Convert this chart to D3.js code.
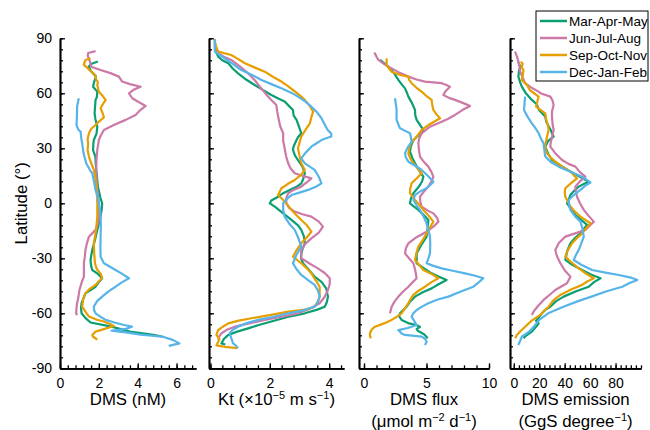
<!DOCTYPE html>
<html>
<head>
<meta charset="utf-8">
<script src="https://cdn.jsdelivr.net/npm/d3@7"></script>
<style>
  body { margin: 0; background: #fff; }
  svg { display: block; font-family: Arial, "Liberation Sans", sans-serif; }
  .axis path, .axis line { stroke: #000; }
  .axis path { stroke-width: 1.7px; }
  .axis line { stroke-width: 1.3px; }
  .axis text { font-size: 14px; fill: #000; font-family: Arial, "Liberation Sans", sans-serif; }
  .title { font-size: 16.8px; fill: #000; }
  .profile { fill: none; stroke-width: 2.2px; stroke-linejoin: round; }
</style>
</head>
<body>
<div id="chart"></div>
<script>
// seasons and their colours
const seasons = ["Mar-Apr-May", "Jun-Jul-Aug", "Sep-Oct-Nov", "Dec-Jan-Feb"];
const seasonColors = ["#0a9e73", "#cc79a7", "#e69f00", "#56b4e9"];
const latTicks = [-90, -60, -30, 0, 30, 60, 90];

// DMS (nM): [latitude, value]
const dmsMAM = [[77.3,1.95],[76,1.6],[74.5,1.48],[72,1.6],[69.1,1.85],[66,1.75],[63.6,1.7],[60.9,1.92],[58,1.9],[56.4,1.83],[52,1.8],[49.1,1.78],[46,1.82],[41.8,1.92],[38,1.88],[34.5,1.74],[32.7,1.72],[29.1,1.7],[25.5,1.82],[20,1.85],[14.5,1.9],[9.1,1.95],[3,2.08],[0,2.17],[-3,2.15],[-7.3,2.09],[-14.5,1.92],[-20,1.8],[-25.5,1.66],[-30.9,1.57],[-34,1.6],[-36.4,1.66],[-38.5,1.95],[-40.9,2.17],[-43,2.0],[-45.5,1.83],[-49.1,1.31],[-52,1.2],[-54.5,1.11],[-57,1.08],[-60,1.11],[-62.5,1.3],[-65,1.57],[-67.3,2.65],[-70,3.6],[-71.8,4.8],[-72.8,5.3]];
const dmsJJA = [[83,1.83],[82,1.45],[80.4,1.43],[77,1.55],[74.5,1.6],[72.7,2.09],[71,2.6],[69.1,3.03],[66.4,3.2],[65,3.6],[63.6,4.15],[62,3.8],[60,3.55],[57.3,3.72],[55.5,4.0],[53.1,4.41],[51,4.15],[48.2,3.89],[45.5,3.38],[42.7,2.77],[40,2.26],[37,2.1],[34.5,2.0],[29.1,1.92],[24,1.88],[18.2,1.86],[12,1.88],[7.3,1.92],[0,2.0],[-7.3,2.0],[-11,1.95],[-14.5,1.83],[-18.2,1.49],[-22,1.38],[-25.5,1.31],[-29,1.28],[-32.7,1.23],[-36,1.23],[-40,1.23],[-43,1.12],[-47.3,1.0],[-51,0.95],[-54.5,0.88],[-57,0.85],[-60,0.83],[-61,0.88]];
const dmsSON = [[79.1,1.57],[78.2,1.31],[76.5,1.25],[75.5,1.23],[74,1.4],[72.2,1.57],[69.8,1.83],[68.2,1.83],[66,1.95],[64.5,1.92],[60.9,2.0],[58.5,2.2],[56.4,2.35],[54,2.2],[51.8,2.09],[49,2.2],[46.9,2.26],[44.5,2.0],[42.7,1.83],[40.5,1.6],[38.2,1.49],[35,1.42],[32.7,1.45],[29,1.42],[25.5,1.49],[22,1.6],[18.2,1.74],[14,1.82],[10.9,1.86],[5,1.9],[0,1.92],[-7.3,1.92],[-14.5,1.86],[-21.8,1.74],[-27,1.76],[-32.7,1.8],[-36,1.9],[-38.5,2.1],[-40.9,2.17],[-42.5,2.0],[-44.5,1.83],[-47,1.5],[-49.1,1.31],[-52,1.2],[-56.4,1.14],[-59,1.3],[-61.8,1.49],[-63.5,1.9],[-64.5,2.26],[-66,2.6],[-66.9,2.77],[-68.5,2.3],[-70,1.83],[-71.8,1.66],[-72.8,1.7],[-74.3,1.92]];
const dmsDJF = [[57.3,0.97],[54,0.9],[52.7,0.88],[47,0.87],[42.7,0.85],[40,0.95],[39.1,1.06],[35,1.1],[32.7,1.14],[27,1.22],[21.8,1.35],[18,1.55],[16.4,1.66],[12,1.75],[7.3,1.83],[3,1.95],[0,2.0],[-3,2.05],[-7.3,2.09],[-12,2.1],[-18.2,2.09],[-24,2.08],[-29.1,2.09],[-32.7,2.26],[-34.5,2.55],[-36.4,2.86],[-38.5,3.2],[-40.9,3.55],[-43,3.2],[-45.5,2.86],[-48,2.5],[-50.9,2.17],[-53.5,1.9],[-56.4,1.74],[-58.5,1.76],[-60,1.83],[-62,2.1],[-63.6,2.35],[-65,2.8],[-66.4,3.3],[-67.3,3.7],[-68.5,3.4],[-69.5,2.65],[-70.5,3.5],[-71.6,4.15],[-72.8,5.3],[-74.5,5.8],[-76.4,6.15],[-77.8,5.6]];

// Kt (x1e-5 m s-1)
const ktMAM = [[89.5,0.15],[86,0.15],[83.6,0.15],[80,0.26],[78,0.4],[76.4,0.6],[73.5,0.75],[70.9,0.93],[67.5,1.2],[64.5,1.49],[62,1.75],[59.1,2.05],[57,2.3],[55.5,2.5],[53,2.65],[50.9,2.78],[48,2.8],[45.5,2.9],[42,2.98],[38.2,3.06],[36,2.95],[34.5,2.9],[31,2.8],[29.1,2.78],[26,2.85],[23.6,2.95],[20,3.1],[16.4,3.18],[13,3.12],[10.9,3.06],[9,2.9],[7.3,2.67],[5.5,2.45],[3.6,2.28],[1.5,2.05],[0,2.0],[-1.8,2.17],[-5.5,2.45],[-9.1,2.73],[-12,2.95],[-14.5,3.06],[-18,3.15],[-21.8,3.18],[-25,3.1],[-27.3,3.06],[-30,3.05],[-32.7,3.12],[-36,3.3],[-40,3.51],[-43,3.75],[-46.4,3.9],[-50.9,3.96],[-54,3.92],[-56.4,3.85],[-58,3.6],[-60,3.18],[-62,2.6],[-64.5,2.05],[-66.5,1.6],[-68.2,1.27],[-70,0.9],[-71.8,0.6],[-74,0.45],[-76.4,0.37],[-77,0.5]];
const ktJJA = [[89.5,0.15],[87,0.15],[84,0.2],[81.8,0.26],[80,0.45],[78.2,0.7],[74.5,1.0],[70.9,1.27],[67,1.5],[63.6,1.66],[61,1.8],[58.2,1.94],[55.5,2.1],[53.6,2.22],[50,2.25],[47.3,2.28],[42,2.35],[38.2,2.45],[34,2.45],[30,2.5],[25.5,2.55],[21.8,2.62],[19,2.7],[16.4,2.84],[15,3.1],[13.6,3.4],[11.5,3.25],[9.1,3.06],[7.3,2.8],[5.5,2.62],[2.5,2.55],[0,2.56],[-2.5,2.65],[-4.5,2.84],[-6,3.1],[-7.3,3.4],[-10,3.65],[-12.7,3.79],[-16,3.65],[-19.1,3.4],[-22,3.2],[-25.5,3.06],[-30,3.06],[-33,3.35],[-35.5,3.62],[-38,3.85],[-40.9,4.02],[-44,4.02],[-47.3,3.96],[-51,3.85],[-54.5,3.68],[-57.5,3.35],[-60,2.95],[-62,2.35],[-63.6,1.83],[-65.5,1.3],[-67.3,0.82],[-69,0.55],[-70.9,0.37],[-72.5,0.3],[-74.5,0.26]];
const ktSON = [[89.5,0.15],[88,0.15],[85,0.2],[82.7,0.26],[80.9,0.7],[78.5,0.95],[76.4,1.16],[74,1.5],[71.8,1.83],[69,2.1],[66.4,2.39],[64,2.6],[61.8,2.78],[59,3.0],[56.4,3.18],[53,3.35],[50,3.46],[47,3.4],[43.6,3.35],[40,3.2],[36.4,3.06],[33,3.0],[30,2.95],[26,3.0],[21.8,3.06],[18.2,3.18],[15.5,3.05],[12.7,2.84],[10.5,2.6],[8.2,2.39],[4.5,2.28],[1.8,2.45],[-1,2.6],[-3.6,2.73],[-6.5,2.9],[-9.1,3.06],[-12,3.25],[-15.5,3.4],[-18.5,3.25],[-21.8,3.06],[-25.5,2.9],[-29.1,2.78],[-32.7,3.06],[-35.5,3.25],[-38.2,3.4],[-42,3.55],[-45.5,3.68],[-50.9,3.68],[-54,3.6],[-56.4,3.51],[-58,3.2],[-59.1,2.62],[-61,2.0],[-62.7,1.38],[-64,0.95],[-65.5,0.6],[-67.5,0.4],[-69.1,0.26],[-71.8,0.2],[-74,0.3],[-75.5,0.26],[-77.5,0.2],[-78.3,0.5],[-79,0.9]];
const ktDJF = [[89.5,0.15],[86,0.15],[82.7,0.15],[81,0.3],[79.1,0.48],[76,0.75],[72.7,1.04],[70,1.4],[67.3,1.72],[65,2.05],[62.7,2.39],[60.5,2.7],[58.2,2.95],[55.5,3.2],[52.7,3.4],[49.5,3.6],[46.4,3.74],[43,3.85],[40,3.95],[38,4.07],[36.4,4.07],[34.5,3.74],[32.5,3.55],[30.9,3.4],[27.5,3.2],[24.5,3.06],[21.8,3.18],[18.2,3.51],[14.5,3.65],[10.9,3.74],[9,3.55],[7.3,3.29],[5.8,3.0],[4.5,2.73],[2,2.55],[0,2.45],[-3.5,2.45],[-7.3,2.5],[-11,2.65],[-14.5,2.84],[-18.5,2.95],[-23.6,3.06],[-28,2.9],[-32.7,2.78],[-36,2.9],[-39.1,3.06],[-42,3.3],[-44.5,3.51],[-47.5,3.62],[-50.9,3.68],[-54,3.62],[-56.4,3.51],[-58.5,3.1],[-60,2.62],[-62,2.1],[-63.6,1.6],[-65.5,1.2],[-67.3,0.93],[-69,0.75],[-70.9,0.65],[-73.5,0.7],[-76.4,0.76],[-77.5,0.85],[-79,0.93]];

// DMS flux (umol m-2 d-1)
const fluxMAM = [[78.2,1.28],[76.5,1.6],[74.5,1.95],[71,2.4],[67.3,2.75],[65,3.0],[62.7,3.28],[60,3.45],[58.2,3.55],[54.5,3.85],[50.9,4.08],[48,4.1],[45.5,4.21],[42.5,4.5],[40,4.75],[37,4.35],[34.5,3.95],[31,3.75],[28.2,3.68],[25,3.85],[21.8,4.08],[18,4.4],[14.5,4.75],[12,4.65],[10,4.48],[7.5,4.2],[5.5,3.95],[2.5,3.75],[0,3.68],[-1.8,4.0],[-3.6,4.35],[-6.5,4.8],[-9.1,5.15],[-13,5.1],[-18.2,5.01],[-22.5,4.6],[-27.3,4.21],[-32.7,4.21],[-35.5,4.8],[-38.2,5.41],[-40,6.0],[-41.8,6.61],[-44,6.0],[-46.4,5.41],[-48.5,4.7],[-50.9,4.08],[-53.5,3.7],[-56.4,3.41],[-58.5,3.1],[-60,2.88],[-61.5,2.8],[-63.6,3.01],[-65.5,3.6],[-66.4,4.2],[-67.5,4.48],[-68.5,4.21],[-69.5,4.3],[-71.4,4.8],[-73.6,5.1]];
const fluxJJA = [[82.2,0.83],[80,1.0],[78.2,1.15],[75.5,1.7],[73.6,2.21],[71,2.9],[69.1,3.55],[67.5,4.2],[66.4,4.88],[65.5,6.21],[64.5,6.6],[63.6,6.88],[61,6.5],[59.1,6.35],[57.5,6.8],[56.4,7.28],[54.5,8.0],[53.1,8.48],[51,7.9],[48.2,7.28],[46,6.7],[44.5,6.21],[41.8,5.28],[38.2,4.61],[35,4.4],[32.7,4.35],[29,4.4],[25.5,4.48],[22.5,4.8],[20,5.15],[17,5.4],[14.5,5.55],[12,5.4],[9.1,5.15],[6.5,4.8],[3.6,4.48],[1,4.5],[-1.8,4.61],[-4,5.1],[-5.5,5.55],[-8,5.85],[-10,5.95],[-12.5,5.6],[-15.5,5.01],[-18.5,4.2],[-21.8,3.55],[-24.5,3.35],[-27.3,3.28],[-30,3.6],[-32.7,3.95],[-36.5,4.1],[-40.9,4.21],[-43,3.9],[-45.5,3.55],[-48,3.15],[-50.9,2.75],[-53.5,2.45],[-56.4,2.21],[-60,2.08]];
const fluxSON = [[79,1.8],[78.5,1.81],[75.5,1.81],[73.5,2.0],[71.8,2.21],[70,2.9],[69.1,3.55],[67.5,3.6],[65.5,3.81],[63,4.2],[60.9,4.61],[58.5,5.0],[56.4,5.41],[54,5.45],[50.9,5.55],[48.5,5.8],[46.4,6.08],[44.5,5.6],[42.7,5.15],[40,4.61],[36.4,4.21],[34,3.9],[31.8,3.68],[27.3,3.55],[24.5,3.7],[21.8,3.95],[19,4.3],[16.4,4.61],[13.5,4.2],[10.9,3.81],[8,3.7],[5.5,3.68],[1.8,4.08],[-1,4.45],[-3.6,4.75],[-7,5.2],[-10,5.55],[-13,5.3],[-16.4,5.01],[-20,4.7],[-23.6,4.35],[-27,4.2],[-30.9,4.08],[-33.5,4.4],[-36.4,4.75],[-38.5,5.4],[-40.9,5.95],[-43,5.4],[-45.5,4.88],[-48,4.3],[-50,3.95],[-52.5,3.7],[-54.5,3.55],[-57,3.3],[-60,3.01],[-62,2.6],[-63.6,2.21],[-65.5,1.6],[-67.3,0.88],[-69,0.6],[-70.9,0.48],[-72.5,0.48],[-73.6,0.56]];
const fluxDJF = [[57.3,2.48],[54,2.55],[50.9,2.61],[48,2.6],[45.5,2.61],[43,2.75],[40.9,2.88],[39.5,3.3],[38.2,3.68],[36,3.75],[33.6,3.81],[30.5,3.5],[27.3,3.28],[25,3.35],[22.7,3.55],[20.5,4.1],[18.2,4.61],[15,5.1],[11.8,5.55],[10,5.3],[8.2,5.01],[6.5,4.5],[4.5,4.08],[1.8,3.95],[-1,4.2],[-3.6,4.48],[-7,4.75],[-10.9,5.01],[-14.5,5.15],[-18.2,5.28],[-23,5.3],[-27.3,5.28],[-30,5.15],[-32.7,5.01],[-34,5.5],[-35.5,6.21],[-36.8,7.1],[-38.2,8.08],[-39.5,8.9],[-40.9,9.55],[-43,9.2],[-45.5,8.75],[-48,7.8],[-50.9,6.75],[-52.5,5.9],[-54.5,5.15],[-56.5,4.6],[-58.2,4.21],[-60,3.95],[-61.8,3.81],[-64,4.0],[-66.4,4.21],[-68,3.5],[-69.2,2.75],[-70,2.88],[-71,3.0],[-71.8,3.28],[-72.7,4.61],[-74,4.9],[-75.5,5.01],[-77.3,4.88]];

// DMS emission (GgS degree-1)
const emisMAM = [[77,3.5],[74.5,5.0],[72,4.0],[69.1,3.6],[66,5.0],[63.6,6.3],[60,9.5],[56.4,14.2],[54,18],[50.9,19.8],[47.3,24.7],[44.5,25.5],[40,29],[38.2,30],[36.4,31.3],[34,27],[30.9,24.7],[27,27],[23.6,30],[20.5,37],[17.3,44.5],[14.5,52],[11.8,58.9],[10.5,55],[9.1,51],[6.5,47],[4.5,44.5],[2,43],[0,41.8],[-3,45],[-6.4,48.4],[-9,53],[-11.8,57.6],[-14,55],[-16.4,52.4],[-19,48],[-21.8,44.5],[-26,42],[-30.9,40.5],[-33.5,46],[-36.4,53.7],[-39,61],[-40.9,68.2],[-43,63],[-45.5,58.9],[-48,49],[-50.9,39.2],[-53.5,33],[-56.4,28.7],[-58,25],[-60,22.1],[-62,20],[-64,17.5],[-65.5,19.5],[-67,18],[-70,14.2],[-72,10],[-73.6,7.6]];
const emisJJA = [[82.7,1.0],[80,2.5],[77.3,3.6],[74.5,4.5],[71.8,5.0],[68.5,7],[65.5,8.9],[63,14],[60.9,19.5],[60,21],[58.2,28.7],[56,30.5],[53.6,31.3],[50,30],[47.3,30],[43,30.5],[40,31.3],[36,30],[33,29],[30.9,28.7],[27,33],[23.6,37.9],[21.5,43],[20,48.4],[17,52],[14.5,56.3],[12,52],[9.1,48.4],[6.5,48.8],[3.6,49.7],[0,52],[-3.6,55],[-7,59],[-10,62.9],[-12,60],[-14.5,56.3],[-16,50],[-18.2,40.5],[-21.5,35.5],[-25.5,32.6],[-29,34],[-32.7,36.6],[-36.5,40],[-40,44.5],[-43.6,41.8],[-45.5,37],[-47.3,32.6],[-50,28],[-52.7,23.4],[-56,19],[-59.1,15.5],[-60.9,14.2]];
const emisSON = [[77.3,5.5],[76,7.0],[74.5,6.0],[72.5,7.6],[69.8,7.0],[67.3,6.3],[64.5,10.3],[61.8,12.5],[58.2,19.5],[56.4,18.8],[54.5,18.2],[52.7,17.5],[49.1,24.7],[45.5,25.5],[42,27],[40,27.4],[36,26],[31.8,24.7],[29.5,25],[27.3,26],[25,29],[22.7,32.6],[20,38],[17.3,44.5],[15.5,47],[13.6,49.7],[11,45],[8.2,40.5],[6,40],[3.6,40.5],[1,42.5],[-1.8,44.5],[-4.5,48],[-7.3,52.4],[-10.9,60.3],[-13.5,57],[-16.4,53.7],[-19,49.5],[-21.8,45.8],[-25.5,42.5],[-29.1,40.5],[-32,45],[-35.5,51],[-38,56],[-40.9,62.9],[-42.5,58],[-44.5,53.7],[-47,45],[-50,36.6],[-53,31],[-56.4,27.4],[-58.5,24],[-60.9,20.8],[-64,14],[-67.3,8.9],[-69.5,5.5],[-71.8,2.4],[-73.6,1.05]];
const emisDJF = [[58.2,8.9],[55,8.5],[50.9,8.0],[47,11],[43.6,14.2],[41,17],[38.2,19.5],[35,21.5],[32.7,23.4],[29,24],[25.5,24.7],[22.5,29],[20,35.3],[17.3,44],[14.5,53.7],[12.5,58],[11.3,60.3],[9.5,56],[7.3,52.4],[4.5,47],[1.8,43.2],[-1,43.5],[-3.6,44.5],[-7,48],[-10,52.4],[-14,54],[-18.2,55],[-22,53],[-25.5,51],[-28,49],[-30.9,47.1],[-33.5,53],[-36.4,61.6],[-37.8,72],[-39.1,82.6],[-40.5,92],[-41.8,97.1],[-43.5,91],[-45.5,85.3],[-48,73],[-50.9,61],[-53.5,50],[-56.4,39],[-60,27],[-63.6,20],[-67,16],[-70,12],[-72.7,6.3],[-75,5],[-77.3,3.5]];

const width = 650, height = 430;
const svg = d3.select("#chart").append("svg")
  .attr("width", width)
  .attr("height", height);

// shared latitude scale
const y = d3.scaleLinear().domain([-90, 90]).range([368.3, 38.3]);

// panel layout (pixels) and axis setup
const panels = [
  { series: [dmsMAM, dmsJJA, dmsSON, dmsDJF], domain: [0, 7], range: [60, 196],
    major: [0, 2, 4, 6], minorStep: 0.4, title: ["DMS (nM)"] },
  { series: [ktMAM, ktJJA, ktSON, ktDJF], domain: [-0.05, 4.5], range: [209, 344],
    major: [0, 2, 4], minorStep: 0.4, title: [[["Kt (×10"], ["−5", 1], [" m s"], ["−1", 1], [")"]]] },
  { series: [fluxMAM, fluxJJA, fluxSON, fluxDJF], domain: [-0.4, 10], range: [359, 489],
    major: [0, 5, 10], minorStep: 1, title: ["DMS flux", [["(μmol m"], ["−2", 1], [" d"], ["−1", 1], [")"]]] },
  { series: [emisMAM, emisJJA, emisSON, emisDJF], domain: [-3, 100], range: [510, 641],
    major: [0, 20, 40, 60, 80], minorStep: 4, title: ["DMS emission", [["(GgS degree"], ["−1", 1], [")"]]] }
];

const latMinor = d3.range(-90, 90.1, 6);

panels.forEach(function (p, i) {
  const x = d3.scaleLinear().domain(p.domain).range(p.range);
  const g = svg.append("g");

  // minor ticks first
  const xMinor = d3.range(0, p.domain[1] + 1e-6, p.minorStep);
  g.append("g")
    .attr("class", "axis")
    .attr("transform", "translate(0," + y(-90) + ")")
    .call(d3.axisBottom(x).tickValues(xMinor).tickSize(-3).tickFormat("").tickSizeOuter(0));
  g.append("g")
    .attr("class", "axis")
    .attr("transform", "translate(" + p.range[0] + ",0)")
    .call(d3.axisLeft(y).tickValues(latMinor).tickSize(-3).tickFormat("").tickSizeOuter(0));

  // major x axis
  g.append("g")
    .attr("class", "axis")
    .attr("transform", "translate(0," + y(-90) + ")")
    .call(d3.axisBottom(x).tickValues(p.major).tickSize(-5).tickPadding(10)
      .tickSizeOuter(0).tickFormat(d => String(d)));

  // major y axis, labels only on the first panel
  const yAxis = d3.axisLeft(y).tickValues(latTicks).tickSize(-5).tickPadding(8).tickSizeOuter(0);
  yAxis.tickFormat(i === 0 ? (d => String(d)) : "");
  g.append("g")
    .attr("class", "axis")
    .attr("transform", "translate(" + p.range[0] + ",0)")
    .call(yAxis);

  // profiles
  const line = d3.line().x(d => x(d[1])).y(d => y(d[0]));
  p.series.forEach(function (s, k) {
    g.append("path")
      .datum(s)
      .attr("class", "profile")
      .attr("stroke", seasonColors[k])
      .attr("d", line);
  });

  // axis title (with superscripts)
  const cx = (p.range[0] + p.range[1]) / 2;
  p.title.forEach(function (t, row) {
    const txt = g.append("text")
      .attr("class", "title")
      .attr("text-anchor", "middle")
      .attr("x", cx)
      .attr("y", 405 + row * 22);
    if (typeof t === "string") {
      txt.text(t);
    } else {
      let up = false;
      t.forEach(function (part) {
        const sup = part[1] === 1;
        const ts = txt.append("tspan").text(part[0]);
        if (sup && !up) { ts.attr("dy", -6).attr("font-size", "11px"); up = true; }
        else if (!sup && up) { ts.attr("dy", 6); up = false; }
        else if (sup) { ts.attr("font-size", "11px"); }
      });
    }
  });
});

// y axis title
svg.append("text")
  .attr("class", "title")
  .attr("text-anchor", "middle")
  .attr("transform", "translate(27," + y(0) + ") rotate(-90)")
  .text("Latitude (°)");

// legend
const legend = svg.append("g").attr("transform", "translate(536,11)");
legend.append("rect")
  .attr("width", 112).attr("height", 70)
  .attr("fill", "#fff").attr("stroke", "#000").attr("stroke-width", 1);
seasons.forEach(function (name, k) {
  const ly = 10 + k * 17;
  legend.append("line")
    .attr("x1", 4).attr("x2", 31).attr("y1", ly).attr("y2", ly)
    .attr("stroke", seasonColors[k]).attr("stroke-width", 2.5);
  legend.append("text")
    .attr("x", 33).attr("y", ly).attr("dy", "0.35em")
    .attr("font-size", "13.5px")
    .text(name);
});
</script>
</body>
</html>
